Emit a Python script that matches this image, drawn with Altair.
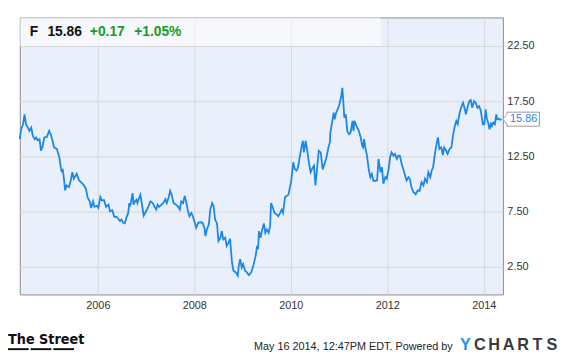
import altair as alt
import pandas as pd

# ---------------- data ----------------
years = [
    2004.38, 2004.41, 2004.45, 2004.48, 2004.51, 2004.55, 2004.58, 2004.62, 2004.65, 2004.69,
    2004.72, 2004.75, 2004.79, 2004.82, 2004.85, 2004.89, 2004.94, 2004.99, 2005.02, 2005.06,
    2005.09, 2005.15, 2005.20, 2005.23, 2005.25, 2005.27, 2005.30, 2005.32, 2005.35, 2005.40,
    2005.43, 2005.47, 2005.50, 2005.56, 2005.61, 2005.65, 2005.71, 2005.75, 2005.79, 2005.83,
    2005.86, 2005.90, 2005.93, 2005.98, 2006.01, 2006.05, 2006.08, 2006.13, 2006.17, 2006.22,
    2006.25, 2006.30, 2006.34, 2006.39, 2006.42, 2006.46, 2006.49, 2006.53, 2006.56, 2006.59,
    2006.63, 2006.65, 2006.67, 2006.72, 2006.74, 2006.77, 2006.80, 2006.82, 2006.84, 2006.88,
    2006.91, 2006.95, 2007.00, 2007.05, 2007.09, 2007.14, 2007.17, 2007.21, 2007.24, 2007.27,
    2007.32, 2007.36, 2007.40, 2007.43, 2007.47, 2007.50, 2007.53, 2007.57, 2007.62, 2007.66,
    2007.70, 2007.73, 2007.77, 2007.80, 2007.83, 2007.87, 2007.90, 2007.94, 2007.97, 2008.00,
    2008.04, 2008.08, 2008.13, 2008.17, 2008.21, 2008.23, 2008.26, 2008.30, 2008.33, 2008.37,
    2008.40, 2008.43, 2008.47, 2008.50, 2008.54, 2008.57, 2008.60, 2008.64, 2008.67, 2008.71,
    2008.74, 2008.78, 2008.81, 2008.86, 2008.90, 2008.92, 2008.95, 2008.98, 2009.01, 2009.05,
    2009.09, 2009.13, 2009.18, 2009.23, 2009.27, 2009.30, 2009.32, 2009.34, 2009.37, 2009.40,
    2009.44, 2009.47, 2009.50, 2009.54, 2009.57, 2009.59, 2009.63, 2009.66, 2009.71, 2009.74,
    2009.78, 2009.81, 2009.84, 2009.88, 2009.92, 2009.95, 2009.99, 2010.01, 2010.05, 2010.08,
    2010.12, 2010.15, 2010.19, 2010.22, 2010.25, 2010.27, 2010.31, 2010.34, 2010.38, 2010.41,
    2010.44, 2010.48, 2010.51, 2010.55, 2010.58, 2010.62, 2010.66, 2010.70, 2010.74, 2010.78,
    2010.81, 2010.82, 2010.85, 2010.89, 2010.91, 2010.94, 2010.97, 2011.00, 2011.04, 2011.07,
    2011.09, 2011.11, 2011.14, 2011.17, 2011.21, 2011.24, 2011.28, 2011.30, 2011.32, 2011.36,
    2011.41, 2011.45, 2011.48, 2011.50, 2011.52, 2011.55, 2011.58, 2011.62, 2011.65, 2011.68,
    2011.71, 2011.75, 2011.79, 2011.82, 2011.86, 2011.89, 2011.92, 2011.96, 2011.99, 2012.03,
    2012.06, 2012.09, 2012.13, 2012.16, 2012.20, 2012.23, 2012.26, 2012.30, 2012.33, 2012.37,
    2012.40, 2012.44, 2012.47, 2012.50, 2012.54, 2012.59, 2012.63, 2012.67, 2012.71, 2012.75,
    2012.78, 2012.82, 2012.85, 2012.89, 2012.92, 2012.95, 2012.99, 2013.02, 2013.05, 2013.08,
    2013.12, 2013.15, 2013.18, 2013.22, 2013.25, 2013.29, 2013.33, 2013.36, 2013.40, 2013.43,
    2013.46, 2013.50, 2013.53, 2013.57, 2013.60, 2013.63, 2013.67, 2013.70, 2013.73, 2013.76,
    2013.80, 2013.83, 2013.87, 2013.90, 2013.93, 2013.95, 2013.98, 2014.01, 2014.04, 2014.06,
    2014.09, 2014.12, 2014.15, 2014.17, 2014.20, 2014.23, 2014.26, 2014.28, 2014.31, 2014.34,
    2014.37,
]

prices = [
    14.05, 14.95, 15.40, 16.30, 15.40, 15.10, 14.80, 15.10, 14.35, 14.05,
    14.20, 13.95, 14.05, 13.00, 13.35, 14.20, 14.25, 14.80, 14.50, 13.90,
    13.30, 13.15, 12.40, 11.50, 11.05, 11.35, 10.30, 9.40, 9.85, 9.70,
    10.15, 11.05, 10.45, 10.90, 10.30, 10.15, 9.85, 9.55, 8.70, 8.40,
    7.80, 8.40, 7.90, 8.00, 7.80, 8.80, 8.50, 8.50, 7.90, 8.10,
    7.50, 7.60, 7.00, 7.00, 6.85, 6.60, 6.75, 6.45, 6.40, 6.90,
    7.35, 8.25, 7.95, 9.15, 8.10, 8.40, 8.55, 8.25, 8.55, 9.00,
    8.25, 7.10, 7.50, 7.95, 8.40, 8.25, 7.95, 7.65, 8.10, 7.90,
    8.10, 8.25, 8.60, 8.25, 8.80, 9.35, 9.00, 8.25, 8.10, 7.95,
    7.65, 8.40, 8.25, 8.90, 8.40, 7.50, 7.05, 7.35, 7.05, 6.60,
    6.00, 6.45, 6.50, 6.45, 6.00, 5.25, 5.85, 6.30, 7.65, 8.25,
    7.95, 6.75, 6.40, 4.80, 5.10, 5.70, 4.95, 5.10, 4.35, 4.65,
    5.00, 2.85, 2.10, 1.95, 1.65, 2.55, 3.15, 2.40, 2.70, 2.10,
    1.95, 1.70, 1.95, 2.70, 3.45, 4.35, 4.05, 5.70, 5.10, 5.70,
    6.40, 5.55, 5.85, 5.55, 6.15, 8.25, 7.80, 7.35, 7.20, 7.05,
    7.35, 7.65, 7.35, 8.80, 8.90, 9.00, 9.85, 10.30, 11.95, 11.35,
    11.20, 11.50, 12.55, 13.30, 13.90, 12.85, 13.90, 13.00, 11.80, 11.05,
    11.35, 11.65, 9.85, 11.65, 13.00, 12.85, 11.30, 11.80, 12.40, 13.30,
    13.75, 14.65, 15.40, 16.45, 15.85, 16.45, 16.75, 17.05, 17.80, 18.70,
    17.35, 16.00, 16.30, 14.80, 14.50, 14.65, 15.70, 14.80, 15.70, 15.25,
    14.80, 14.20, 13.45, 13.30, 14.05, 13.15, 12.55, 11.20, 10.60, 10.90,
    10.30, 10.25, 10.30, 12.25, 11.05, 11.50, 10.00, 10.60, 10.45, 11.35,
    12.40, 12.85, 12.55, 12.70, 12.25, 12.55, 12.55, 11.80, 11.35, 10.75,
    10.30, 10.60, 10.40, 9.70, 9.25, 9.05, 9.40, 9.35, 10.15, 9.85,
    10.45, 10.15, 11.05, 10.60, 11.20, 11.50, 12.85, 13.60, 14.20, 13.15,
    13.30, 12.60, 13.30, 13.00, 12.70, 13.15, 13.30, 14.35, 15.25, 15.70,
    15.40, 16.45, 16.90, 17.35, 16.90, 16.30, 17.05, 17.50, 17.60, 16.90,
    17.50, 17.35, 16.90, 17.05, 16.75, 16.30, 15.40, 15.40, 16.75, 16.00,
    15.55, 14.95, 15.55, 15.25, 15.55, 15.40, 16.30, 15.85, 15.90, 15.80,
    15.86,
]

ticker = "F"
last_price = 15.86
change_txt = "+0.17"
change_pct_txt = "+1.05%"
y_ticks = [2.5, 7.5, 12.5, 17.5, 22.5]
x_tick_years = [2006, 2008, 2010, 2012, 2014]
footer_text = "May 16 2014, 12:47PM EDT.  Powered by"
brand_letters = ["Y", "C", "H", "A", "R", "T", "S"]
brand_colors = ["#2596de", "#3a3a3a", "#3a3a3a", "#3a3a3a", "#3a3a3a", "#3a3a3a", "#3a3a3a"]


def to_ts(t):
    y = int(t)
    start = pd.Timestamp(year=y, month=1, day=1)
    end = pd.Timestamp(year=y + 1, month=1, day=1)
    return start + (end - start) * (t - y)


df = pd.DataFrame({"date": [to_ts(t) for t in years], "price": prices})
one = pd.DataFrame({"k": [0]})

LINE_BLUE = "#1b87e6"
GREEN = "#1a9c1a"
FONT = "Liberation Sans, Arial, sans-serif"

x_scale = alt.Scale(domain=[alt.DateTime(year=2004, month=5, date=20),
                            alt.DateTime(year=2014, month=5, date=26)])
y_scale = alt.Scale(domain=[-0.05, 25.1], nice=False, zero=False)

y_axis = alt.Axis(orient="right", values=y_ticks, format=".2f", grid=True, title=None,
                  ticks=False, domain=False, labelPadding=4, labelFontSize=11,
                  labelColor="#333333", labelFont=FONT, gridColor="#d6d6d6")

line = alt.Chart(df).mark_line(color=LINE_BLUE, strokeWidth=1.8).encode(
    x=alt.X("date:T", scale=x_scale, title=None,
            axis=alt.Axis(values=[alt.DateTime(year=y, month=1, date=1) for y in x_tick_years],
                          format="%Y", grid=True, ticks=False, domain=False, title=None,
                          labelPadding=5, labelFontSize=11, labelColor="#333333",
                          labelFont=FONT, gridColor="#d6d6d6", labelFlush=False)),
    y=alt.Y("price:Q", scale=y_scale, title=None, axis=y_axis),
)

band = alt.Chart(one).mark_rect(fill="white", opacity=0.55).encode(
    x=alt.value(0), x2=alt.value(366), y=alt.value(0), y2=alt.value(29)
)

def htext(txt, x, color):
    return alt.Chart(one).mark_text(
        text=txt, align="left", baseline="alphabetic", fontSize=14, fontWeight="bold",
        font=FONT, color=color
    ).encode(x=alt.value(x), y=alt.value(19))

header = [
    htext(ticker, 10, "#111111"),
    htext(f"{last_price:.2f}", 28, "#111111"),
    htext(change_txt, 71, GREEN),
    htext(change_pct_txt, 116, GREEN),
]

box_path = "M-1.24,0 L-1,-0.3 L-1,-0.43 L1,-0.43 L1,0.43 L-1,0.43 L-1,0.3 Z"
label_box = alt.Chart(one).mark_point(
    shape=box_path, size=1089, filled=True, fill="white", stroke="#9a9a9a",
    strokeWidth=1, opacity=1
).encode(x=alt.value(510.5),
         y=alt.Y(datum=last_price, type="quantitative", scale=y_scale, title=None, axis=y_axis))
label_txt = alt.Chart(one).mark_text(
    text=f"{last_price:.2f}", color=LINE_BLUE, fontSize=11, font=FONT,
    align="center", baseline="middle"
).encode(x=alt.value(511),
         y=alt.Y(datum=last_price, type="quantitative", scale=y_scale, title=None, axis=y_axis))

street = alt.Chart(one).mark_text(
    text="The Street", align="left", baseline="alphabetic", fontSize=14.5, fontWeight="bold",
    font="Liberation Sans Narrow, DejaVu Sans Condensed, Liberation Sans, sans-serif",
    color="#111111"
).encode(x=alt.value(-12), y=alt.value(331))

underlines = [
    alt.Chart(one).mark_rect(color="#111111").encode(
        x=alt.value(a), x2=alt.value(b), y=alt.value(335.5), y2=alt.value(337.5))
    for a, b in [(-12, 9), (11, 32), (34, 55)]
]

footer = alt.Chart(one).mark_text(
    text=footer_text, align="right", baseline="alphabetic", fontSize=11, font=FONT,
    color="#222222"
).encode(x=alt.value(439), y=alt.value(337.5))

brand = []
for i, (ch, col) in enumerate(zip(brand_letters, brand_colors)):
    cx = 452 + i * 14.6
    brand.append(alt.Chart(one).mark_text(
        text=ch, align="center", baseline="alphabetic", fontSize=16.5, fontWeight="bold",
        font=FONT, color=col
    ).encode(x=alt.value(cx), y=alt.value(337.7)))

chart = alt.layer(
    band, line, *header, label_box, label_txt, street, *underlines, footer, *brand
).properties(
    width=490, height=281,
    autosize=alt.AutoSizeParams(type="none"),
    padding={"left": 12, "top": 7, "right": 65, "bottom": 66},
    background="white",
).configure_view(
    fill="#eaf0fb", stroke="#8c8c8c", strokeWidth=1
)

chart.save("out.html", embed_options={"renderer": "svg", "actions": False})
